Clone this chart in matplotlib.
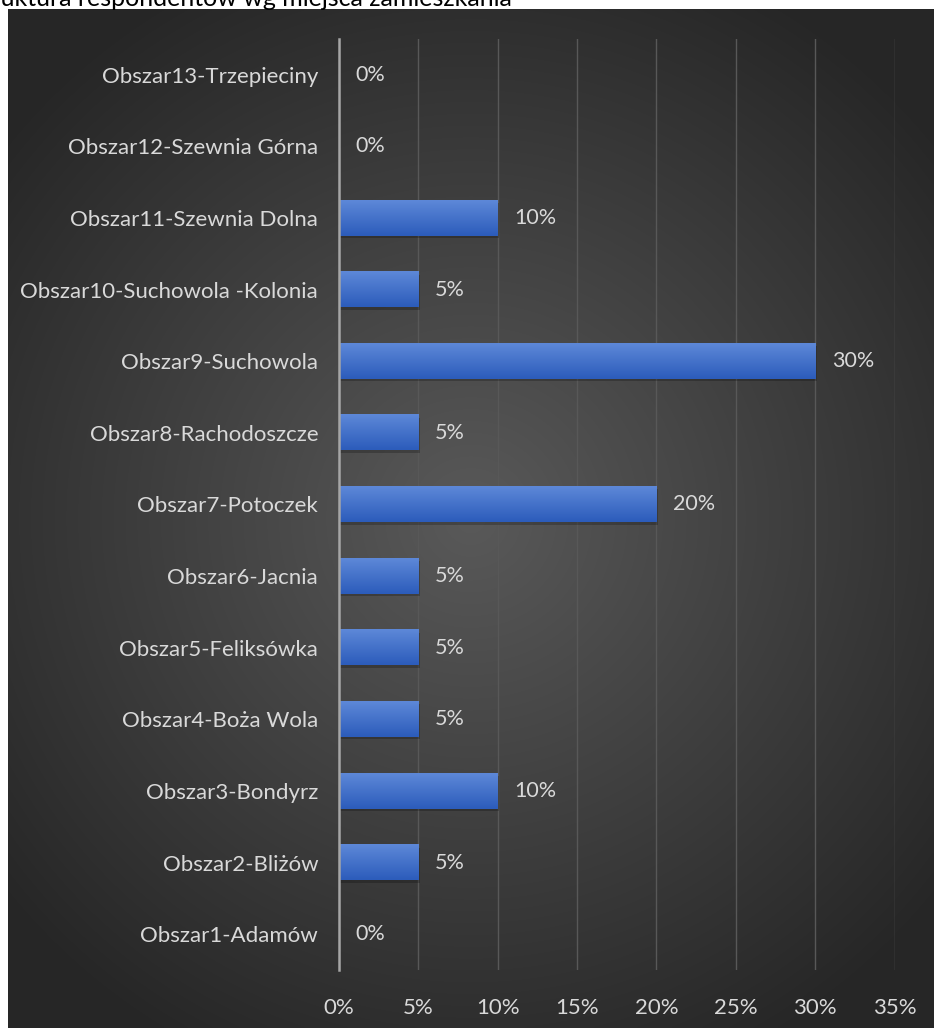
import numpy as np
import matplotlib.pyplot as plt
from matplotlib.ticker import PercentFormatter

# Data
categories = ["Obszar1-Adamów", "Obszar2-Bliżów", "Obszar3-Bondyrz", "Obszar4-Boża Wola",
              "Obszar5-Feliksówka", "Obszar6-Jacnia", "Obszar7-Potoczek", "Obszar8-Rachodoszcze",
              "Obszar9-Suchowola", "Obszar10-Suchowola -Kolonia", "Obszar11-Szewnia Dolna",
              "Obszar12-Szewnia Górna", "Obszar13-Trzepieciny"]
shares = [0.00, 0.05, 0.10, 0.05, 0.05, 0.05, 0.20, 0.05, 0.30, 0.05, 0.10, 0.00, 0.00]
title = "Struktura respondentów wg miejsca zamieszkania"

plt.rcParams['font.family'] = ['Lato', 'DejaVu Sans']
W, H = 934, 1028
fig = plt.figure(figsize=(W / 100, H / 100), dpi=100)
fig.patch.set_facecolor("white")

# radial gradient background panel
bg = fig.add_axes([8 / W, 0, 1 - 8 / W, 1 - 9 / H])
bg.set_axis_off()
yy, xx = np.mgrid[0:1:400j, 0:1:400j]
r = np.sqrt((xx - 0.5) ** 2 + ((yy - 0.5) * 1.1) ** 2)
shade = np.clip(0.35 - 0.23 * r / 0.75, 0.15, 0.35)
img = np.dstack([shade, shade, shade])
bg.imshow(img, aspect="auto", extent=[0, 1, 0, 1], interpolation="bilinear")

# title, cut off at the top-left like the screenshot
t = fig.text(0, 1 - 5.5 / H, title, fontsize=18, color="black", ha="left", va="baseline", zorder=0)
fig.canvas.draw()
r_ = fig.canvas.get_renderer()
pre = fig.text(0, 0, "Str", fontsize=18)
shift = pre.get_window_extent(r_).width
pre.remove()
t.set_x(-(shift - 1) / W)

ax = fig.add_axes([339 / W, 1 - 970 / H, (894.5 - 339) / W, (970 - 39) / H])
ax.patch.set_alpha(0)
y = np.arange(len(categories))
bars = ax.barh(y, shares, height=0.49, color="#4472c4", zorder=3)

# gradient fill and soft shadow for the bars
grad = np.linspace(0, 1, 50).reshape(-1, 1)
top_c = np.array([0x5d, 0x88, 0xd8]) / 255
bot_c = np.array([0x2c, 0x5c, 0xbb]) / 255
gimg = (top_c[None, None, :] * (1 - grad[:, :, None]) + bot_c[None, None, :] * grad[:, :, None])
for b in bars:
    w = b.get_width()
    if w <= 0:
        continue
    y0 = b.get_y()
    h = b.get_height()
    ax.barh(y0 + h / 2 - 0.035, w + 0.001, height=h, color="black", alpha=0.22, zorder=2)
    ax.imshow(gimg, aspect="auto", extent=[0, w, y0, y0 + h], zorder=4, interpolation="bilinear")

for yi, v in zip(y, shares):
    ax.text(v + 0.0105, yi, f"{v:.0%}", color="#d9d9d9", fontsize=15.5, va="center", ha="left", zorder=5)

ax.set_xlim(0, 0.35)
ax.set_ylim(-0.5, len(categories) - 0.5)
ax.set_xticks(np.arange(0, 0.351, 0.05))
ax.xaxis.set_major_formatter(PercentFormatter(1.0, decimals=0))
ax.set_yticks(y)
ax.set_yticklabels(categories)
ax.tick_params(axis="both", colors="#d9d9d9", labelsize=16, length=0)
ax.tick_params(axis="x", pad=20)
ax.tick_params(axis="y", pad=15)
ax.grid(axis="x", color="#585858", linewidth=1, zorder=0)
ax.set_axisbelow(True)
for s in ["top", "right", "bottom"]:
    ax.spines[s].set_visible(False)
ax.spines["left"].set_color("#a6a6a6")
ax.spines["left"].set_linewidth(1.8)
ax.spines["left"].set_zorder(6)

fig.savefig("out.png", dpi=100, facecolor="white")
